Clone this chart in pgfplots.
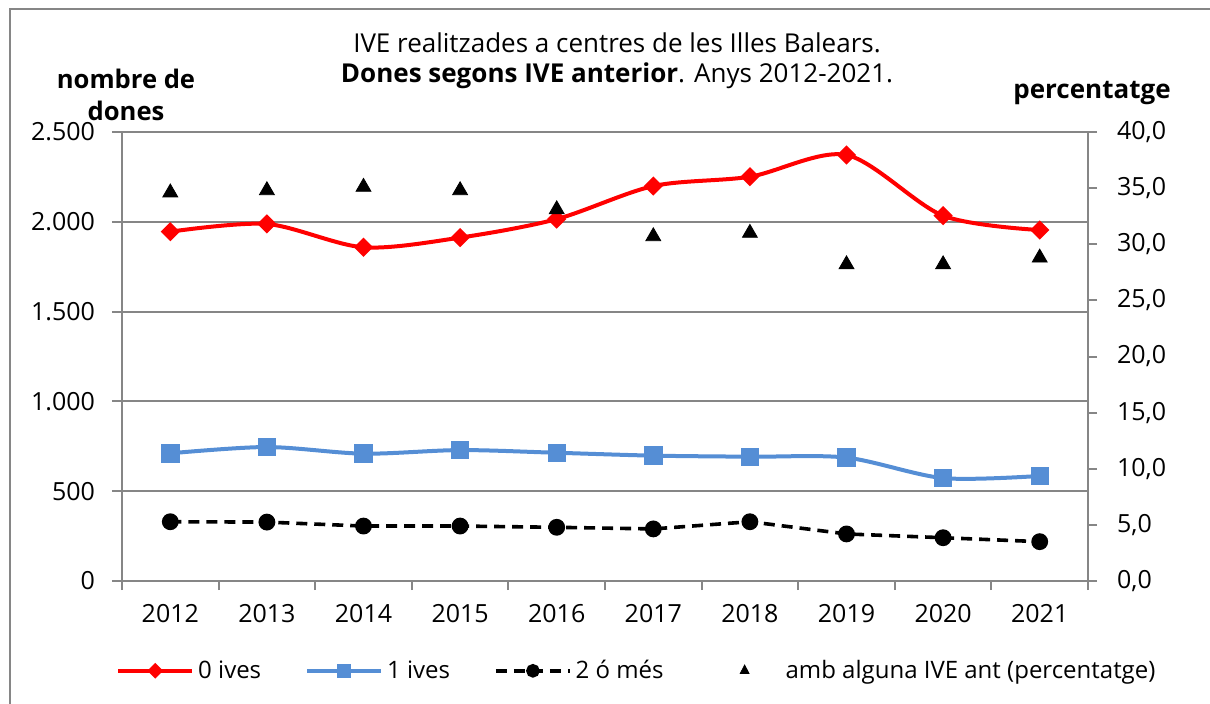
\documentclass[border=0pt]{standalone}
\usepackage{fontspec}
\setmainfont{Open Sans}
\usepackage{pgfplots}
\pgfplotsset{compat=1.18}
\definecolor{gridgray}{RGB}{134,134,134}
\definecolor{serblue}{RGB}{85,142,213}
\begin{document}
\begin{tikzpicture}
\path[use as bounding box] (0pt,0pt) rectangle (605pt,351.5pt);
\draw[gridgray, line width=1pt] (5pt,-5pt) -- (5pt,347pt) -- (615pt,347pt);
\node[align=center, font=\fontsize{13}{15}\selectfont] at (308.5pt,321pt) {IVE realitzades a centres de les Illes Balears.\\ \textbf{Dones segons IVE anterior}. Anys 2012-2021.};
\node[align=center, font=\bfseries\fontsize{12.8}{16}\selectfont] at (63pt,304pt) {nombre de\\dones};
\node[font=\bfseries\fontsize{13}{16}\selectfont] at (546pt,305pt) {percentatge};

\begin{axis}[at={(61pt,61pt)}, anchor=south west, scale only axis,
  width=483pt, height=224.5pt,
  xmin=-0.5, xmax=9.5, ymin=0, ymax=2500,
  ytick={0,500,1000,1500,2000,2500},
  xtick={0,1,2,3,4,5,6,7,8,9},
  xticklabels={2012,2013,2014,2015,2016,2017,2018,2019,2020,2021},
  minor xtick={-0.5,0.5,1.5,2.5,3.5,4.5,5.5,6.5,7.5,8.5,9.5},
  xtick pos=bottom, ytick pos=left,
  ymajorgrids, grid style={gridgray, line width=1pt},
  axis line style={gridgray, line width=1pt},
  tick style={gridgray, line width=1pt},
  major x tick style={draw=none},
  tick align=outside, major tick length=5pt, minor tick length=4.5pt,
  ticklabel style={font=\fontsize{12.5}{15}\selectfont},
  xticklabel style={yshift=-3pt},
  yticklabel style={xshift=-5pt},
  /pgf/number format/.cd, 1000 sep={.}, assume math mode=true,
]
\addplot[red, line width=2pt, smooth, mark=square*, mark size=2.4pt, mark options={rotate=45, solid}]
 coordinates {(0,1945) (1,1988) (2,1858) (3,1912) (4,2015) (5,2199) (6,2251) (7,2372) (8,2034) (9,1954)};
\addplot[serblue, line width=2pt, smooth, mark=square*, mark size=3.6pt, mark options={solid}]
 coordinates {(0,711) (1,746) (2,709) (3,729) (4,714) (5,698) (6,692) (7,687) (8,573) (9,585)};
\addplot[black, line width=1.8pt, dash pattern=on 5.5pt off 3.5pt, mark=*, mark size=3.3pt, mark options={solid}]
 coordinates {(0,330) (1,328) (2,306) (3,306) (4,299) (5,290) (6,330) (7,262) (8,241) (9,219)};
\end{axis}

\begin{axis}[at={(61pt,61pt)}, anchor=south west, scale only axis,
  width=483pt, height=224.5pt,
  xmin=-0.5, xmax=9.5, ymin=0, ymax=40,
  axis y line*=right, axis x line=none,
  ytick={0,5,10,15,20,25,30,35,40},
  axis line style={gridgray, line width=1pt},
  tick style={gridgray, line width=1pt},
  tick align=outside, major tick length=4.5pt,
  ticklabel style={font=\fontsize{12.5}{15}\selectfont},
  yticklabel style={xshift=6.5pt, /pgf/number format/.cd, fixed, fixed zerofill, precision=1, use comma, assume math mode=true},
  legend image code/.code={\draw[mark repeat=2,mark phase=2,#1] plot coordinates {(0cm,0cm)(0.65cm,0cm)(1.3cm,0cm)};},
  legend style={at={(0.534,-0.2)}, anchor=center, draw=none, legend columns=4,
    font=\fontsize{12}{14}\selectfont,
    /tikz/every even column/.append style={column sep=20pt}},
]
\addlegendimage{red, line width=2pt, mark=square*, mark size=1.8pt, mark options={rotate=45, solid}}
\addlegendentry{0 ives}
\addlegendimage{serblue, line width=2pt, mark=square*, mark size=2.5pt, mark options={solid}}
\addlegendentry{1 ives}
\addlegendimage{black, line width=1.8pt, dash pattern=on 5.5pt off 3.5pt, mark=*, mark size=2.5pt, mark options={solid}}
\addlegendentry{2 ó més}
\addplot[black, only marks, mark=triangle*, mark size=4.3pt,
  legend image code/.code={\path[draw=none, fill=none] (0cm,0cm) -- (1.3cm,0cm); \node[draw=none, fill=none, inner sep=0pt] at (0.65cm,0cm) {\tikz\fill[black] (-2.2pt,-1.6pt) -- (2.2pt,-1.6pt) -- (0,2.6pt) -- cycle;};}]
 coordinates {(0,34.6) (1,34.8) (2,35.1) (3,34.8) (4,33.1) (5,30.7) (6,31.0) (7,28.2) (8,28.2) (9,28.8)};
\addlegendentry{amb alguna IVE ant (percentatge)}
\end{axis}
\end{tikzpicture}
\end{document}
